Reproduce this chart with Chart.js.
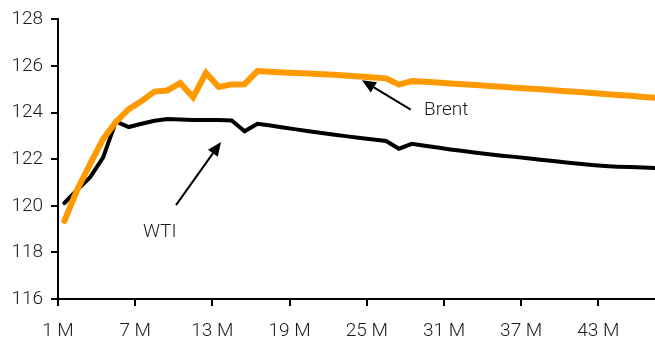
<!DOCTYPE html>
<html>
<head>
<meta charset="utf-8">
<script src="https://cdn.jsdelivr.net/npm/chart.js@4"></script>
<style>
  html, body { margin: 0; padding: 0; background: #fff; }
  #wrap { width: 655px; height: 343px; }
</style>
</head>
<body>
<div id="wrap"><canvas id="chart" width="655" height="343"></canvas></div>
<script>
// contract month (1 = front month)
const months = [1, 2, 3, 4, 5, 6, 7, 8, 9, 10, 11, 12, 13, 14, 15, 16, 17, 18, 19, 20, 21, 22, 23, 24,
  25, 26, 27, 28, 29, 30, 31, 32, 33, 34, 35, 36, 37, 38, 39, 40, 41, 42, 43, 44, 45, 46, 47];

// Brent curve
const brent = [119.35, 120.7, 121.8, 122.86, 123.6, 124.15, 124.5, 124.9, 124.95, 125.27, 124.66, 125.7,
  125.1, 125.21, 125.22, 125.78, 125.75, 125.72, 125.7, 125.68, 125.65, 125.62, 125.58, 125.55,
  125.51, 125.47, 125.2, 125.35, 125.32, 125.29, 125.25, 125.22, 125.18, 125.14, 125.11, 125.07,
  125.03, 125.0, 124.96, 124.92, 124.88, 124.84, 124.8, 124.76, 124.72, 124.67, 124.63];

// WTI curve
const wti = [120.12, 120.69, 121.23, 122.07, 123.62, 123.38, 123.52, 123.65, 123.72, 123.7, 123.68, 123.68,
  123.68, 123.66, 123.2, 123.52, 123.45, 123.36, 123.28, 123.2, 123.12, 123.05, 122.98, 122.91,
  122.85, 122.78, 122.45, 122.66, 122.58, 122.5, 122.42, 122.35, 122.28, 122.21, 122.15, 122.1,
  122.04, 121.98, 121.92, 121.86, 121.8, 121.75, 121.71, 121.68, 121.66, 121.64, 121.62];

const tickMonths = [1, 7, 13, 19, 25, 31, 37, 43];
const yTicks = [116, 118, 120, 122, 124, 126, 128];

// labels with arrows (in axis units)
const notes = [
  { text: 'Brent', tip: [24.62, 125.39], tail: [28.41, 124.13], at: [29.45, 124.1] },
  { text: 'WTI', tip: [13.67, 122.74], tail: [10.17, 120.03], at: [7.6, 118.87] }
];

const FONT = 'Roboto, "Liberation Sans", Arial, sans-serif';
const TEXT = '#1a1a1a';

// each month is drawn in the middle of its slot, between tick marks
const toPoints = vals => vals.map((v, i) => ({ x: months[i] + 0.5, y: v }));

const notesPlugin = {
  id: 'notes',
  afterDatasetsDraw(chart) {
    const { ctx, scales: { x, y } } = chart;
    ctx.save();
    notes.forEach(n => {
      const tx = x.getPixelForValue(n.tip[0]), ty = y.getPixelForValue(n.tip[1]);
      const sx = x.getPixelForValue(n.tail[0]), sy = y.getPixelForValue(n.tail[1]);
      const ang = Math.atan2(ty - sy, tx - sx);
      const head = 14, half = 6;
      const bx = tx - head * Math.cos(ang), by = ty - head * Math.sin(ang);
      ctx.strokeStyle = '#000';
      ctx.lineWidth = 2;
      ctx.beginPath();
      ctx.moveTo(sx, sy);
      ctx.lineTo(bx, by);
      ctx.stroke();
      ctx.fillStyle = '#000';
      ctx.beginPath();
      ctx.moveTo(tx, ty);
      ctx.lineTo(bx + half * Math.sin(ang), by - half * Math.cos(ang));
      ctx.lineTo(bx - half * Math.sin(ang), by + half * Math.cos(ang));
      ctx.closePath();
      ctx.fill();

      ctx.fillStyle = TEXT;
      ctx.font = '300 19px ' + FONT;
      ctx.textAlign = 'left';
      ctx.textBaseline = 'middle';
      ctx.fillText(n.text, x.getPixelForValue(n.at[0]), y.getPixelForValue(n.at[1]));
    });
    ctx.restore();
  }
};

new Chart(document.getElementById('chart'), {
  type: 'line',
  data: {
    datasets: [
      {
        label: 'Brent',
        data: toPoints(brent),
        borderColor: '#ff9900',
        borderWidth: 6,
        borderCapStyle: 'round',
        pointRadius: 0,
        tension: 0
      },
      {
        label: 'WTI',
        data: toPoints(wti),
        borderColor: '#000000',
        borderWidth: 4,
        borderCapStyle: 'round',
        pointRadius: 0,
        tension: 0
      }
    ]
  },
  options: {
    responsive: false,
    devicePixelRatio: 1,
    animation: false,
    layout: { padding: { top: 19, right: 0, left: 0, bottom: 0 } },
    plugins: { legend: { display: false }, tooltip: { enabled: false } },
    scales: {
      x: {
        type: 'linear',
        min: 1,
        max: 47.4,
        afterBuildTicks: s => { s.ticks = tickMonths.map(v => ({ value: v })); },
        afterFit: s => { s.height = 44; },
        border: { display: true, color: '#000', width: 2 },
        grid: { drawOnChartArea: false, color: '#000', lineWidth: 2, tickLength: 7 },
        ticks: {
          callback: v => v + ' M',
          color: TEXT,
          font: { family: FONT, size: 19, weight: 300 },
          padding: 14,
          maxRotation: 0,
          autoSkip: false
        }
      },
      y: {
        min: 116,
        max: 128,
        afterBuildTicks: s => { s.ticks = yTicks.map(v => ({ value: v })); },
        afterFit: s => { s.width = 58; },
        border: { display: true, color: '#000', width: 2 },
        grid: { drawOnChartArea: false, color: '#000', lineWidth: 2, tickLength: 7 },
        ticks: {
          color: TEXT,
          font: { family: FONT, size: 19, weight: 300 },
          padding: 8
        }
      }
    }
  },
  plugins: [notesPlugin]
});
</script>
</body>
</html>
